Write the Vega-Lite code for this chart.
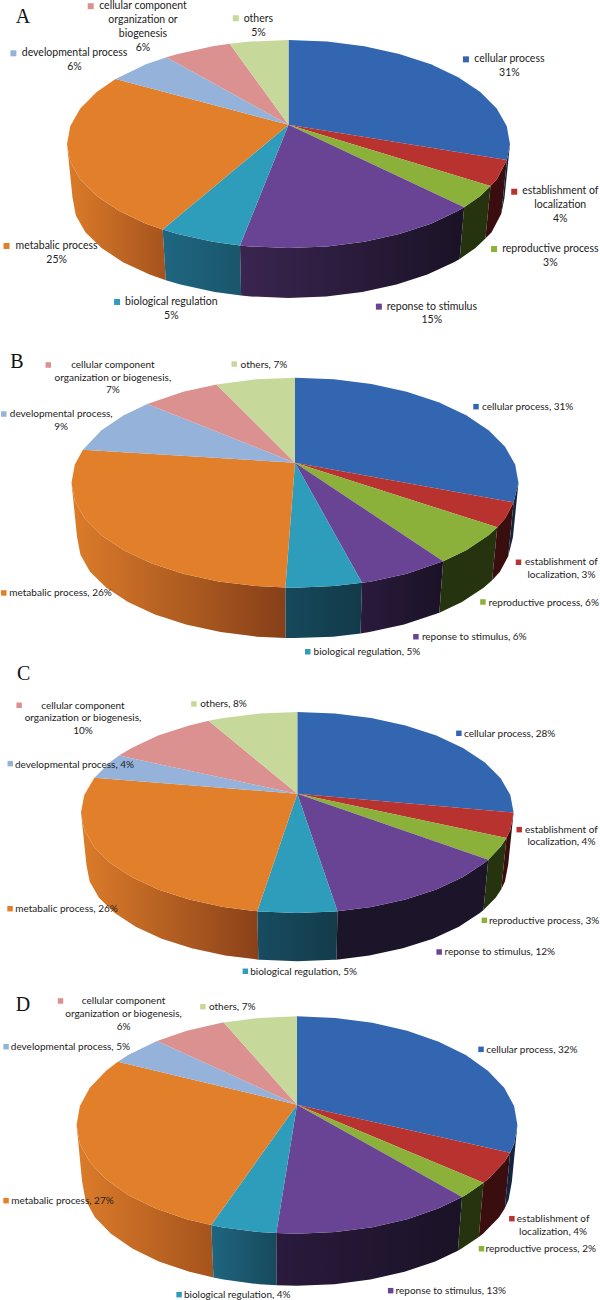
{"$schema":"https://vega.github.io/schema/vega-lite/v6.json","padding":0,"spacing":-1,"background":"white","config":{"view":{"stroke":null},"range":{"category":["#2E9DBC","#DA9190","#3366B0","#95B3DA","#B8322F","#E27F2B","#C6D99B","#6A4494","#8BB13A"]}},
"datasets":{
"letters":[{"pie":"A","lu":-1.199,"lv":-1.224},{"pie":"B","lu":-1.244,"lv":-1.152},{"pie":"C","lu":-1.265,"lv":-1.378},{"pie":"D","lu":-1.243,"lv":-1.107}],
"slices":[
{"pie":"A","category":"cellular process","pct":31,"label":"cellular process\n31%","su":0.801,"sv":-0.814,"tu":0.997,"tv":-0.816,"u":[0,0,0.174,0.342,0.5,0.643,0.766,0.866,0.94,0.985,1,0.986],"v":[-0.185,-1,-0.985,-0.94,-0.866,-0.766,-0.643,-0.5,-0.342,-0.174,0,0.154],"wu":[1,0.986,0.961,0.975],"wv":[0,0.154,0.668,0.52]},
{"pie":"A","category":"establishment of localization","pct":4,"label":"establishment of\nlocalization\n4%","su":1.019,"sv":0.459,"tu":1.227,"tv":0.456,"u":[0,0.986,0.94,0.912],"v":[-0.185,0.154,0.342,0.404],"wu":[0.986,0.94,0.912,0.889,0.917,0.961],"wv":[0.154,0.342,0.404,0.908,0.848,0.668]},
{"pie":"A","category":"reproductive process","pct":3,"label":"reproductive process\n3%","su":0.928,"sv":1.01,"tu":1.182,"tv":1.011,"u":[0,0.912,0.866,0.793],"v":[-0.185,0.404,0.5,0.609],"wu":[0.912,0.866,0.793,0.773,0.844,0.889],"wv":[0.404,0.5,0.609,1.105,1,0.908]},
{"pie":"A","category":"reponse to stimulus","pct":15,"label":"reponse to stimulus\n15%","su":0.408,"sv":1.564,"tu":0.647,"tv":1.564,"u":[0,0.793,0.766,0.643,0.5,0.342,0.174,0,-0.174,-0.219],"v":[-0.185,0.609,0.643,0.766,0.866,0.94,0.985,1,0.985,0.976],"wu":[0.793,0.766,0.643,0.5,0.342,0.174,0,-0.174,-0.219,-0.214,-0.17,0,0.17,0.333,0.488,0.627,0.747,0.773],"wv":[0.609,0.643,0.766,0.866,0.94,0.985,1,0.985,0.976,1.457,1.466,1.48,1.466,1.422,1.351,1.255,1.137,1.105]},
{"pie":"A","category":"biological regulation","pct":5,"label":"biological regulation\n5%","su":-0.774,"sv":1.519,"tu":-0.529,"tv":1.521,"u":[0,-0.219,-0.342,-0.5,-0.568],"v":[-0.185,0.976,0.94,0.866,0.823],"wu":[-0.219,-0.342,-0.5,-0.568,-0.554,-0.488,-0.333,-0.214],"wv":[0.976,0.94,0.866,0.823,1.31,1.351,1.422,1.457]},
{"pie":"A","category":"metabalic process","pct":25,"label":"metabalic process\n25%","su":-1.273,"sv":0.981,"tu":-1.047,"tv":0.985,"u":[0,-0.568,-0.643,-0.766,-0.866,-0.94,-0.985,-1,-0.985,-0.94,-0.866,-0.781],"v":[-0.185,0.823,0.766,0.643,0.5,0.342,0.174,0,-0.174,-0.342,-0.5,-0.625],"wu":[-0.568,-0.643,-0.766,-0.866,-0.94,-0.985,-1,-0.975,-0.96,-0.917,-0.844,-0.747,-0.627,-0.554],"wv":[0.823,0.766,0.643,0.5,0.342,0.174,0,0.52,0.687,0.848,1,1.137,1.255,1.31]},
{"pie":"A","category":"developmental process","pct":6,"label":"developmental process\n6%","su":-1.242,"sv":-0.872,"tu":-0.966,"tv":-0.871,"u":[0,-0.781,-0.643,-0.551],"v":[-0.185,-0.625,-0.766,-0.834],"wu":[],"wv":[]},
{"pie":"A","category":"cellular component organization or biogenesis","pct":6,"label":"cellular component\norganization or\nbiogenesis\n6%","su":-0.893,"sv":-1.325,"tu":-0.657,"tv":-1.325,"u":[0,-0.551,-0.5,-0.342,-0.266],"v":[-0.185,-0.834,-0.866,-0.94,-0.964],"wu":[],"wv":[]},
{"pie":"A","category":"others","pct":5,"label":"others\n5%","su":-0.238,"sv":-1.209,"tu":-0.136,"tv":-1.201,"u":[0,-0.266,-0.174,0],"v":[-0.185,-0.964,-0.985,-1],"wu":[],"wv":[]},

{"pie":"B","category":"cellular process","pct":31,"label":"cellular process, 31%","su":0.81,"sv":-0.724,"tu":1.041,"tv":-0.721,"u":[0,0,0.174,0.342,0.5,0.643,0.766,0.866,0.94,0.985,1,0.978],"v":[-0.19,-1,-0.985,-0.94,-0.866,-0.766,-0.643,-0.5,-0.342,-0.174,0,0.187],"wu":[1,0.978,0.954,0.975],"wv":[0,0.187,0.7,0.52]},
{"pie":"B","category":"establishment of localization","pct":3,"label":"establishment of\nlocalization, 3%","su":1,"sv":0.758,"tu":1.192,"tv":0.759,"u":[0,0.978,0.94,0.905],"v":[-0.19,0.187,0.342,0.425],"wu":[0.978,0.94,0.905,0.882,0.917,0.954],"wv":[0.187,0.342,0.425,0.928,0.848,0.7]},
{"pie":"B","category":"reproductive process","pct":6,"label":"reproductive process, 6%","su":0.841,"sv":1.136,"tu":1.113,"tv":1.143,"u":[0,0.905,0.866,0.766,0.663],"v":[-0.19,0.425,0.5,0.643,0.748],"wu":[0.905,0.866,0.766,0.663,0.646,0.747,0.844,0.882],"wv":[0.425,0.5,0.643,0.748,1.238,1.137,1,0.928]},
{"pie":"B","category":"reponse to stimulus","pct":6,"label":"reponse to stimulus, 6%","su":0.541,"sv":1.467,"tu":0.802,"tv":1.47,"u":[0,0.663,0.5,0.342,0.3],"v":[-0.19,0.748,0.866,0.94,0.954],"wu":[0.663,0.5,0.342,0.3,0.293,0.333,0.488,0.646],"wv":[0.748,0.866,0.94,0.954,1.436,1.422,1.351,1.238]},
{"pie":"B","category":"biological regulation","pct":5,"label":"biological regulation, 5%","su":0.057,"sv":1.61,"tu":0.322,"tv":1.612,"u":[0,0.3,0.174,0,-0.043],"v":[-0.19,0.954,0.985,1,0.999],"wu":[0.3,0.174,0,-0.043,-0.042,0,0.17,0.293],"wv":[0.954,0.985,1,0.999,1.479,1.48,1.466,1.436]},
{"pie":"B","category":"metabalic process","pct":26,"label":"metabalic process, 26%","su":-1.303,"sv":1.05,"tu":-1.049,"tv":1.053,"u":[0,-0.043,-0.174,-0.342,-0.5,-0.643,-0.766,-0.866,-0.94,-0.985,-1,-0.985,-0.949],"v":[-0.19,0.999,0.985,0.94,0.866,0.766,0.643,0.5,0.342,0.174,0,-0.174,-0.314],"wu":[-0.043,-0.174,-0.342,-0.5,-0.643,-0.766,-0.866,-0.94,-0.985,-1,-0.975,-0.96,-0.917,-0.844,-0.747,-0.627,-0.488,-0.333,-0.17,-0.042],"wv":[0.999,0.985,0.94,0.866,0.766,0.643,0.5,0.342,0.174,0,0.52,0.687,0.848,1,1.137,1.255,1.351,1.422,1.466,1.479]},
{"pie":"B","category":"developmental process","pct":9,"label":"developmental process,\n9%","su":-1.303,"sv":-0.654,"tu":-1.046,"tv":-0.65,"u":[0,-0.949,-0.866,-0.766,-0.661],"v":[-0.19,-0.314,-0.5,-0.643,-0.75],"wu":[],"wv":[]},
{"pie":"B","category":"cellular component organization or biogenesis","pct":7,"label":"cellular component\norganization or biogenesis,\n7%","su":-1.104,"sv":-1.121,"tu":-0.815,"tv":-1.121,"u":[0,-0.661,-0.5,-0.351],"v":[-0.19,-0.75,-0.866,-0.936],"wu":[],"wv":[]},
{"pie":"B","category":"others","pct":7,"label":"others, 7%","su":-0.272,"sv":-1.13,"tu":-0.139,"tv":-1.124,"u":[0,-0.351,-0.174,0],"v":[-0.19,-0.936,-0.985,-1],"wu":[],"wv":[]},

{"pie":"C","category":"cellular process","pct":28,"label":"cellular process, 28%","su":0.747,"sv":-0.788,"tu":0.982,"tv":-0.784,"u":[0,0,0.174,0.342,0.5,0.643,0.766,0.866,0.94,0.985,1],"v":[-0.187,-1,-0.985,-0.94,-0.866,-0.766,-0.643,-0.5,-0.342,-0.174,0],"wu":[],"wv":[]},
{"pie":"C","category":"establishment of localization","pct":4,"label":"establishment of\nlocalization, 4%","su":1.026,"sv":0.171,"tu":1.221,"tv":0.174,"u":[0,1,0.985,0.967],"v":[-0.187,0,0.174,0.254],"wu":[1,0.985,0.967,0.943,0.96,0.975],"wv":[0,0.174,0.254,0.764,0.687,0.52]},
{"pie":"C","category":"reproductive process","pct":3,"label":"reproductive process, 3%","su":0.865,"sv":1.073,"tu":1.141,"tv":1.077,"u":[0,0.967,0.94,0.883],"v":[-0.187,0.254,0.342,0.47],"wu":[0.967,0.94,0.883,0.861,0.917,0.943],"wv":[0.254,0.342,0.47,0.971,0.848,0.764]},
{"pie":"C","category":"reponse to stimulus","pct":12,"label":"reponse to stimulus, 12%","su":0.656,"sv":1.388,"tu":0.936,"tv":1.391,"u":[0,0.883,0.866,0.766,0.643,0.5,0.342,0.186],"v":[-0.187,0.47,0.5,0.643,0.766,0.866,0.94,0.983],"wu":[0.883,0.866,0.766,0.643,0.5,0.342,0.186,0.181,0.333,0.488,0.627,0.747,0.844,0.861],"wv":[0.47,0.5,0.643,0.766,0.866,0.94,0.983,1.464,1.422,1.351,1.255,1.137,1,0.971]},
{"pie":"C","category":"biological regulation","pct":5,"label":"biological regulation, 5%","su":-0.24,"sv":1.58,"tu":0.029,"tv":1.587,"u":[0,0.186,0.174,0,-0.174,-0.185],"v":[-0.187,0.983,0.985,1,0.985,0.983],"wu":[0.186,0.174,0,-0.174,-0.185,-0.18,-0.17,0,0.17,0.181],"wv":[0.983,0.985,1,0.985,0.983,1.464,1.466,1.48,1.466,1.464]},
{"pie":"C","category":"metabalic process","pct":26,"label":"metabalic process, 26%","su":-1.328,"sv":0.957,"tu":-1.067,"tv":0.963,"u":[0,-0.185,-0.342,-0.5,-0.643,-0.766,-0.866,-0.94,-0.985,-1,-0.985,-0.938],"v":[-0.187,0.983,0.94,0.866,0.766,0.643,0.5,0.342,0.174,0,-0.174,-0.347],"wu":[-0.185,-0.342,-0.5,-0.643,-0.766,-0.866,-0.94,-0.985,-1,-0.975,-0.96,-0.917,-0.844,-0.747,-0.627,-0.488,-0.333,-0.18],"wv":[0.983,0.94,0.866,0.766,0.643,0.5,0.342,0.174,0,0.52,0.687,0.848,1,1.137,1.255,1.351,1.422,1.464]},
{"pie":"C","category":"developmental process","pct":4,"label":"developmental process, 4%","su":-1.327,"sv":-0.486,"tu":-1.03,"tv":-0.476,"u":[0,-0.938,-0.866,-0.824],"v":[-0.187,-0.347,-0.5,-0.566],"wu":[],"wv":[]},
{"pie":"C","category":"cellular component organization or biogenesis","pct":10,"label":"cellular component\norganization or biogenesis,\n10%","su":-1.286,"sv":-1.067,"tu":-0.991,"tv":-1.064,"u":[0,-0.824,-0.766,-0.643,-0.5,-0.41],"v":[-0.187,-0.566,-0.643,-0.766,-0.866,-0.912],"wu":[],"wv":[]},
{"pie":"C","category":"others","pct":8,"label":"others, 8%","su":-0.478,"sv":-1.08,"tu":-0.341,"tv":-1.08,"u":[0,-0.41,-0.342,-0.174,0],"v":[-0.187,-0.912,-0.94,-0.985,-1],"wu":[],"wv":[]},

{"pie":"D","category":"cellular process","pct":32,"label":"cellular process, 32%","su":0.835,"sv":-0.696,"tu":1.066,"tv":-0.693,"u":[0,0,0.174,0.342,0.5,0.643,0.766,0.866,0.94,0.985,1,0.985,0.967],"v":[-0.187,-1,-0.985,-0.94,-0.866,-0.766,-0.643,-0.5,-0.342,-0.174,0,0.174,0.255],"wu":[1,0.985,0.967,0.943,0.96,0.975],"wv":[0,0.174,0.255,0.765,0.687,0.52]},
{"pie":"D","category":"establishment of localization","pct":4,"label":"establishment of\nlocalization, 4%","su":0.975,"sv":0.862,"tu":1.162,"tv":0.863,"u":[0,0.967,0.94,0.866,0.846],"v":[-0.187,0.255,0.342,0.5,0.531],"wu":[0.967,0.94,0.866,0.846,0.825,0.844,0.917,0.943],"wv":[0.255,0.342,0.5,0.531,1.03,1,0.848,0.765]},
{"pie":"D","category":"reproductive process","pct":2,"label":"reproductive process, 2%","su":0.837,"sv":1.138,"tu":1.106,"tv":1.141,"u":[0,0.846,0.766,0.749],"v":[-0.187,0.531,0.643,0.662],"wu":[0.846,0.766,0.749,0.73,0.747,0.825],"wv":[0.531,0.643,0.662,1.156,1.137,1.03]},
{"pie":"D","category":"reponse to stimulus","pct":13,"label":"reponse to stimulus, 13%","su":0.425,"sv":1.524,"tu":0.698,"tv":1.527,"u":[0,0.749,0.643,0.5,0.342,0.174,0,-0.094],"v":[-0.187,0.662,0.766,0.866,0.94,0.985,1,0.994],"wu":[0.749,0.643,0.5,0.342,0.174,0,-0.094,-0.092,0,0.17,0.333,0.488,0.627,0.73],"wv":[0.662,0.766,0.866,0.94,0.985,1,0.994,1.474,1.48,1.466,1.422,1.351,1.255,1.156]},
{"pie":"D","category":"biological regulation","pct":4,"label":"biological regulation, 4%","su":-0.535,"sv":1.561,"tu":-0.271,"tv":1.564,"u":[0,-0.094,-0.174,-0.342,-0.389],"v":[-0.187,0.994,0.985,0.94,0.921],"wu":[-0.094,-0.174,-0.342,-0.389,-0.379,-0.333,-0.17,-0.092],"wv":[0.994,0.985,0.94,0.921,1.404,1.422,1.466,1.474]},
{"pie":"D","category":"metabalic process","pct":27,"label":"metabalic process, 27%","su":-1.32,"sv":0.696,"tu":-1.064,"tv":0.699,"u":[0,-0.389,-0.5,-0.643,-0.766,-0.866,-0.94,-0.985,-1,-0.985,-0.94,-0.866,-0.813],"v":[-0.187,0.921,0.866,0.766,0.643,0.5,0.342,0.174,0,-0.174,-0.342,-0.5,-0.582],"wu":[-0.389,-0.5,-0.643,-0.766,-0.866,-0.94,-0.985,-1,-0.975,-0.96,-0.917,-0.844,-0.747,-0.627,-0.488,-0.379],"wv":[0.921,0.866,0.766,0.643,0.5,0.342,0.174,0,0.52,0.687,0.848,1,1.137,1.255,1.351,1.404]},
{"pie":"D","category":"developmental process","pct":5,"label":"developmental process, 5%","su":-1.32,"sv":-0.72,"tu":-1.028,"tv":-0.718,"u":[0,-0.813,-0.766,-0.643,-0.635],"v":[-0.187,-0.582,-0.643,-0.766,-0.772],"wu":[],"wv":[]},
{"pie":"D","category":"cellular component organization or biogenesis","pct":6,"label":"cellular component\norganization or biogenesis,\n6%","su":-1.073,"sv":-1.141,"tu":-0.787,"tv":-1.138,"u":[0,-0.635,-0.5,-0.342,-0.332],"v":[-0.187,-0.772,-0.866,-0.94,-0.943],"wu":[],"wv":[]},
{"pie":"D","category":"others","pct":7,"label":"others, 7%","su":-0.427,"sv":-1.088,"tu":-0.294,"tv":-1.086,"u":[0,-0.332,-0.174,0],"v":[-0.187,-0.943,-0.985,-1],"wu":[],"wv":[]}
]},
"vconcat":[
{"width":600,"height":330,"data":{"name":"slices"},"transform":[{"filter":"datum.pie=='A'"}],"layer":[
{"transform":[{"filter":"datum.category=='metabalic process'"},{"flatten":["wu","wv"]},{"window":[{"op":"row_number","as":"i"}]}],"mark":{"type":"line","interpolate":"linear-closed","stroke":null,"strokeWidth":0,"fill":{"gradient":"linear","stops":[{"offset":0,"color":"#DC7C2A"},{"offset":1,"color":"#A5531D"}]}},"encoding":{"order":{"field":"i"},"x":{"field":"wu","type":"quantitative","axis":null,"scale":{"domain":[-1.3025,1.4063],"nice":false,"zero":false}},"y":{"field":"wv","type":"quantitative","axis":null,"scale":{"domain":[1.7885,-1.3846],"nice":false,"zero":false}}}},
{"transform":[{"filter":"datum.category=='biological regulation'"},{"flatten":["wu","wv"]},{"window":[{"op":"row_number","as":"i"}]}],"mark":{"type":"line","interpolate":"linear-closed","stroke":null,"strokeWidth":0,"fill":{"gradient":"linear","stops":[{"offset":0,"color":"#1F6680"},{"offset":1,"color":"#1A566C"}]}},"encoding":{"order":{"field":"i"},"x":{"field":"wu","type":"quantitative","axis":null},"y":{"field":"wv","type":"quantitative","axis":null}}},
{"transform":[{"filter":"datum.category=='reponse to stimulus'"},{"flatten":["wu","wv"]},{"window":[{"op":"row_number","as":"i"}]}],"mark":{"type":"line","interpolate":"linear-closed","stroke":null,"strokeWidth":0,"fill":{"gradient":"linear","stops":[{"offset":0,"color":"#3A2550"},{"offset":1,"color":"#1A1226"}]}},"encoding":{"order":{"field":"i"},"x":{"field":"wu","type":"quantitative","axis":null},"y":{"field":"wv","type":"quantitative","axis":null}}},
{"transform":[{"filter":"datum.category=='reproductive process'"},{"flatten":["wu","wv"]},{"window":[{"op":"row_number","as":"i"}]}],"mark":{"type":"line","interpolate":"linear-closed","stroke":null,"strokeWidth":0,"fill":"#25340F"},"encoding":{"order":{"field":"i"},"x":{"field":"wu","type":"quantitative","axis":null},"y":{"field":"wv","type":"quantitative","axis":null}}},
{"transform":[{"filter":"datum.category=='establishment of localization'"},{"flatten":["wu","wv"]},{"window":[{"op":"row_number","as":"i"}]}],"mark":{"type":"line","interpolate":"linear-closed","stroke":null,"strokeWidth":0,"fill":"#3A0E0E"},"encoding":{"order":{"field":"i"},"x":{"field":"wu","type":"quantitative","axis":null},"y":{"field":"wv","type":"quantitative","axis":null}}},
{"transform":[{"filter":"datum.category=='cellular process'"},{"flatten":["wu","wv"]},{"window":[{"op":"row_number","as":"i"}]}],"mark":{"type":"line","interpolate":"linear-closed","stroke":null,"strokeWidth":0,"fill":"#14243F"},"encoding":{"order":{"field":"i"},"x":{"field":"wu","type":"quantitative","axis":null},"y":{"field":"wv","type":"quantitative","axis":null}}},
{"transform":[{"flatten":["u","v"]},{"window":[{"op":"row_number","as":"i"}]}],"mark":{"type":"line","interpolate":"linear-closed","stroke":null,"strokeWidth":0},"encoding":{"order":{"field":"i"},"x":{"field":"u","type":"quantitative","axis":null},"y":{"field":"v","type":"quantitative","axis":null},"fill":{"field":"category","type":"nominal","legend":null}}},
{"mark":{"type":"square","size":36,"opacity":1},"encoding":{"x":{"field":"su","type":"quantitative","axis":null},"y":{"field":"sv","type":"quantitative","axis":null},"fill":{"field":"category","type":"nominal","legend":null}}},
{"mark":{"type":"text","font":"Lato","fontSize":10.5,"lineHeight":13.8,"lineBreak":"\n","align":"center","baseline":"middle","color":"#222222"},"encoding":{"x":{"field":"tu","type":"quantitative","axis":null},"y":{"field":"tv","type":"quantitative","axis":null},"text":{"field":"label"}}},
{"data":{"name":"letters"},"transform":[{"filter":"datum.pie=='A'"}],"mark":{"type":"text","font":"Liberation Serif","fontSize":20,"align":"center","baseline":"middle","color":"#111111"},"encoding":{"x":{"field":"lu","type":"quantitative","axis":null},"y":{"field":"lv","type":"quantitative","axis":null},"text":{"field":"pie"}}}
]},
{"width":600,"height":325,"data":{"name":"slices"},"transform":[{"filter":"datum.pie=='B'"}],"layer":[
{"transform":[{"filter":"datum.category=='metabalic process'"},{"flatten":["wu","wv"]},{"window":[{"op":"row_number","as":"i"}]}],"mark":{"type":"line","interpolate":"linear-closed","stroke":null,"strokeWidth":0,"fill":{"gradient":"linear","stops":[{"offset":0,"color":"#DC7C2A"},{"offset":1,"color":"#863F18"}]}},"encoding":{"order":{"field":"i"},"x":{"field":"wu","type":"quantitative","axis":null,"scale":{"domain":[-1.3199,1.3647],"nice":false,"zero":false}},"y":{"field":"wv","type":"quantitative","axis":null,"scale":{"domain":[1.641,-1.4543],"nice":false,"zero":false}}}},
{"transform":[{"filter":"datum.category=='biological regulation'"},{"flatten":["wu","wv"]},{"window":[{"op":"row_number","as":"i"}]}],"mark":{"type":"line","interpolate":"linear-closed","stroke":null,"strokeWidth":0,"fill":{"gradient":"linear","stops":[{"offset":0,"color":"#16495C"},{"offset":1,"color":"#123A49"}]}},"encoding":{"order":{"field":"i"},"x":{"field":"wu","type":"quantitative","axis":null},"y":{"field":"wv","type":"quantitative","axis":null}}},
{"transform":[{"filter":"datum.category=='reponse to stimulus'"},{"flatten":["wu","wv"]},{"window":[{"op":"row_number","as":"i"}]}],"mark":{"type":"line","interpolate":"linear-closed","stroke":null,"strokeWidth":0,"fill":{"gradient":"linear","stops":[{"offset":0,"color":"#2A1A3C"},{"offset":1,"color":"#1A1226"}]}},"encoding":{"order":{"field":"i"},"x":{"field":"wu","type":"quantitative","axis":null},"y":{"field":"wv","type":"quantitative","axis":null}}},
{"transform":[{"filter":"datum.category=='reproductive process'"},{"flatten":["wu","wv"]},{"window":[{"op":"row_number","as":"i"}]}],"mark":{"type":"line","interpolate":"linear-closed","stroke":null,"strokeWidth":0,"fill":"#25340F"},"encoding":{"order":{"field":"i"},"x":{"field":"wu","type":"quantitative","axis":null},"y":{"field":"wv","type":"quantitative","axis":null}}},
{"transform":[{"filter":"datum.category=='establishment of localization'"},{"flatten":["wu","wv"]},{"window":[{"op":"row_number","as":"i"}]}],"mark":{"type":"line","interpolate":"linear-closed","stroke":null,"strokeWidth":0,"fill":"#3A0E0E"},"encoding":{"order":{"field":"i"},"x":{"field":"wu","type":"quantitative","axis":null},"y":{"field":"wv","type":"quantitative","axis":null}}},
{"transform":[{"filter":"datum.category=='cellular process'"},{"flatten":["wu","wv"]},{"window":[{"op":"row_number","as":"i"}]}],"mark":{"type":"line","interpolate":"linear-closed","stroke":null,"strokeWidth":0,"fill":"#14243F"},"encoding":{"order":{"field":"i"},"x":{"field":"wu","type":"quantitative","axis":null},"y":{"field":"wv","type":"quantitative","axis":null}}},
{"transform":[{"flatten":["u","v"]},{"window":[{"op":"row_number","as":"i"}]}],"mark":{"type":"line","interpolate":"linear-closed","stroke":null,"strokeWidth":0},"encoding":{"order":{"field":"i"},"x":{"field":"u","type":"quantitative","axis":null},"y":{"field":"v","type":"quantitative","axis":null},"fill":{"field":"category","type":"nominal","legend":null}}},
{"mark":{"type":"square","size":30,"opacity":1},"encoding":{"x":{"field":"su","type":"quantitative","axis":null},"y":{"field":"sv","type":"quantitative","axis":null},"fill":{"field":"category","type":"nominal","legend":null}}},
{"mark":{"type":"text","font":"Lato","fontSize":10,"lineHeight":12.7,"lineBreak":"\n","align":"center","baseline":"middle","color":"#222222"},"encoding":{"x":{"field":"tu","type":"quantitative","axis":null},"y":{"field":"tv","type":"quantitative","axis":null},"text":{"field":"label"}}},
{"data":{"name":"letters"},"transform":[{"filter":"datum.pie=='B'"}],"mark":{"type":"text","font":"Liberation Serif","fontSize":20,"align":"center","baseline":"middle","color":"#111111"},"encoding":{"x":{"field":"lu","type":"quantitative","axis":null},"y":{"field":"lv","type":"quantitative","axis":null},"text":{"field":"pie"}}}
]},
{"width":600,"height":325,"data":{"name":"slices"},"transform":[{"filter":"datum.pie=='C'"}],"layer":[
{"transform":[{"filter":"datum.category=='metabalic process'"},{"flatten":["wu","wv"]},{"window":[{"op":"row_number","as":"i"}]}],"mark":{"type":"line","interpolate":"linear-closed","stroke":null,"strokeWidth":0,"fill":{"gradient":"linear","stops":[{"offset":0,"color":"#DC7C2A"},{"offset":1,"color":"#8A4119"}]}},"encoding":{"order":{"field":"i"},"x":{"field":"wu","type":"quantitative","axis":null,"scale":{"domain":[-1.3745,1.3995],"nice":false,"zero":false}},"y":{"field":"wv","type":"quantitative","axis":null,"scale":{"domain":[1.6866,-1.5473],"nice":false,"zero":false}}}},
{"transform":[{"filter":"datum.category=='biological regulation'"},{"flatten":["wu","wv"]},{"window":[{"op":"row_number","as":"i"}]}],"mark":{"type":"line","interpolate":"linear-closed","stroke":null,"strokeWidth":0,"fill":{"gradient":"linear","stops":[{"offset":0,"color":"#184C60"},{"offset":1,"color":"#133B4A"}]}},"encoding":{"order":{"field":"i"},"x":{"field":"wu","type":"quantitative","axis":null},"y":{"field":"wv","type":"quantitative","axis":null}}},
{"transform":[{"filter":"datum.category=='reponse to stimulus'"},{"flatten":["wu","wv"]},{"window":[{"op":"row_number","as":"i"}]}],"mark":{"type":"line","interpolate":"linear-closed","stroke":null,"strokeWidth":0,"fill":"#1C1428"},"encoding":{"order":{"field":"i"},"x":{"field":"wu","type":"quantitative","axis":null},"y":{"field":"wv","type":"quantitative","axis":null}}},
{"transform":[{"filter":"datum.category=='reproductive process'"},{"flatten":["wu","wv"]},{"window":[{"op":"row_number","as":"i"}]}],"mark":{"type":"line","interpolate":"linear-closed","stroke":null,"strokeWidth":0,"fill":"#25340F"},"encoding":{"order":{"field":"i"},"x":{"field":"wu","type":"quantitative","axis":null},"y":{"field":"wv","type":"quantitative","axis":null}}},
{"transform":[{"filter":"datum.category=='establishment of localization'"},{"flatten":["wu","wv"]},{"window":[{"op":"row_number","as":"i"}]}],"mark":{"type":"line","interpolate":"linear-closed","stroke":null,"strokeWidth":0,"fill":"#3A0E0E"},"encoding":{"order":{"field":"i"},"x":{"field":"wu","type":"quantitative","axis":null},"y":{"field":"wv","type":"quantitative","axis":null}}},
{"transform":[{"flatten":["u","v"]},{"window":[{"op":"row_number","as":"i"}]}],"mark":{"type":"line","interpolate":"linear-closed","stroke":null,"strokeWidth":0},"encoding":{"order":{"field":"i"},"x":{"field":"u","type":"quantitative","axis":null},"y":{"field":"v","type":"quantitative","axis":null},"fill":{"field":"category","type":"nominal","legend":null}}},
{"mark":{"type":"square","size":30,"opacity":1},"encoding":{"x":{"field":"su","type":"quantitative","axis":null},"y":{"field":"sv","type":"quantitative","axis":null},"fill":{"field":"category","type":"nominal","legend":null}}},
{"mark":{"type":"text","font":"Lato","fontSize":10,"lineHeight":12.5,"lineBreak":"\n","align":"center","baseline":"middle","color":"#222222"},"encoding":{"x":{"field":"tu","type":"quantitative","axis":null},"y":{"field":"tv","type":"quantitative","axis":null},"text":{"field":"label"}}},
{"data":{"name":"letters"},"transform":[{"filter":"datum.pie=='C'"}],"mark":{"type":"text","font":"Liberation Serif","fontSize":20,"align":"center","baseline":"middle","color":"#111111"},"encoding":{"x":{"field":"lu","type":"quantitative","axis":null},"y":{"field":"lv","type":"quantitative","axis":null},"text":{"field":"pie"}}}
]},
{"width":600,"height":320,"data":{"name":"slices"},"transform":[{"filter":"datum.pie=='D'"}],"layer":[
{"transform":[{"filter":"datum.category=='metabalic process'"},{"flatten":["wu","wv"]},{"window":[{"op":"row_number","as":"i"}]}],"mark":{"type":"line","interpolate":"linear-closed","stroke":null,"strokeWidth":0,"fill":{"gradient":"linear","stops":[{"offset":0,"color":"#DC7C2A"},{"offset":1,"color":"#A5531D"}]}},"encoding":{"order":{"field":"i"},"x":{"field":"wu","type":"quantitative","axis":null,"scale":{"domain":[-1.3475,1.3748],"nice":false,"zero":false}},"y":{"field":"wv","type":"quantitative","axis":null,"scale":{"domain":[1.6284,-1.3155],"nice":false,"zero":false}}}},
{"transform":[{"filter":"datum.category=='biological regulation'"},{"flatten":["wu","wv"]},{"window":[{"op":"row_number","as":"i"}]}],"mark":{"type":"line","interpolate":"linear-closed","stroke":null,"strokeWidth":0,"fill":{"gradient":"linear","stops":[{"offset":0,"color":"#1F6680"},{"offset":1,"color":"#17495C"}]}},"encoding":{"order":{"field":"i"},"x":{"field":"wu","type":"quantitative","axis":null},"y":{"field":"wv","type":"quantitative","axis":null}}},
{"transform":[{"filter":"datum.category=='reponse to stimulus'"},{"flatten":["wu","wv"]},{"window":[{"op":"row_number","as":"i"}]}],"mark":{"type":"line","interpolate":"linear-closed","stroke":null,"strokeWidth":0,"fill":{"gradient":"linear","stops":[{"offset":0,"color":"#2A1A3C"},{"offset":1,"color":"#1A1226"}]}},"encoding":{"order":{"field":"i"},"x":{"field":"wu","type":"quantitative","axis":null},"y":{"field":"wv","type":"quantitative","axis":null}}},
{"transform":[{"filter":"datum.category=='reproductive process'"},{"flatten":["wu","wv"]},{"window":[{"op":"row_number","as":"i"}]}],"mark":{"type":"line","interpolate":"linear-closed","stroke":null,"strokeWidth":0,"fill":"#25340F"},"encoding":{"order":{"field":"i"},"x":{"field":"wu","type":"quantitative","axis":null},"y":{"field":"wv","type":"quantitative","axis":null}}},
{"transform":[{"filter":"datum.category=='establishment of localization'"},{"flatten":["wu","wv"]},{"window":[{"op":"row_number","as":"i"}]}],"mark":{"type":"line","interpolate":"linear-closed","stroke":null,"strokeWidth":0,"fill":"#3A0E0E"},"encoding":{"order":{"field":"i"},"x":{"field":"wu","type":"quantitative","axis":null},"y":{"field":"wv","type":"quantitative","axis":null}}},
{"transform":[{"filter":"datum.category=='cellular process'"},{"flatten":["wu","wv"]},{"window":[{"op":"row_number","as":"i"}]}],"mark":{"type":"line","interpolate":"linear-closed","stroke":null,"strokeWidth":0,"fill":"#14243F"},"encoding":{"order":{"field":"i"},"x":{"field":"wu","type":"quantitative","axis":null},"y":{"field":"wv","type":"quantitative","axis":null}}},
{"transform":[{"flatten":["u","v"]},{"window":[{"op":"row_number","as":"i"}]}],"mark":{"type":"line","interpolate":"linear-closed","stroke":null,"strokeWidth":0},"encoding":{"order":{"field":"i"},"x":{"field":"u","type":"quantitative","axis":null},"y":{"field":"v","type":"quantitative","axis":null},"fill":{"field":"category","type":"nominal","legend":null}}},
{"mark":{"type":"square","size":30,"opacity":1},"encoding":{"x":{"field":"su","type":"quantitative","axis":null},"y":{"field":"sv","type":"quantitative","axis":null},"fill":{"field":"category","type":"nominal","legend":null}}},
{"mark":{"type":"text","font":"Lato","fontSize":10,"lineHeight":13,"lineBreak":"\n","align":"center","baseline":"middle","color":"#222222"},"encoding":{"x":{"field":"tu","type":"quantitative","axis":null},"y":{"field":"tv","type":"quantitative","axis":null},"text":{"field":"label"}}},
{"data":{"name":"letters"},"transform":[{"filter":"datum.pie=='D'"}],"mark":{"type":"text","font":"Liberation Serif","fontSize":20,"align":"center","baseline":"middle","color":"#111111"},"encoding":{"x":{"field":"lu","type":"quantitative","axis":null},"y":{"field":"lv","type":"quantitative","axis":null},"text":{"field":"pie"}}}
]}
]}
